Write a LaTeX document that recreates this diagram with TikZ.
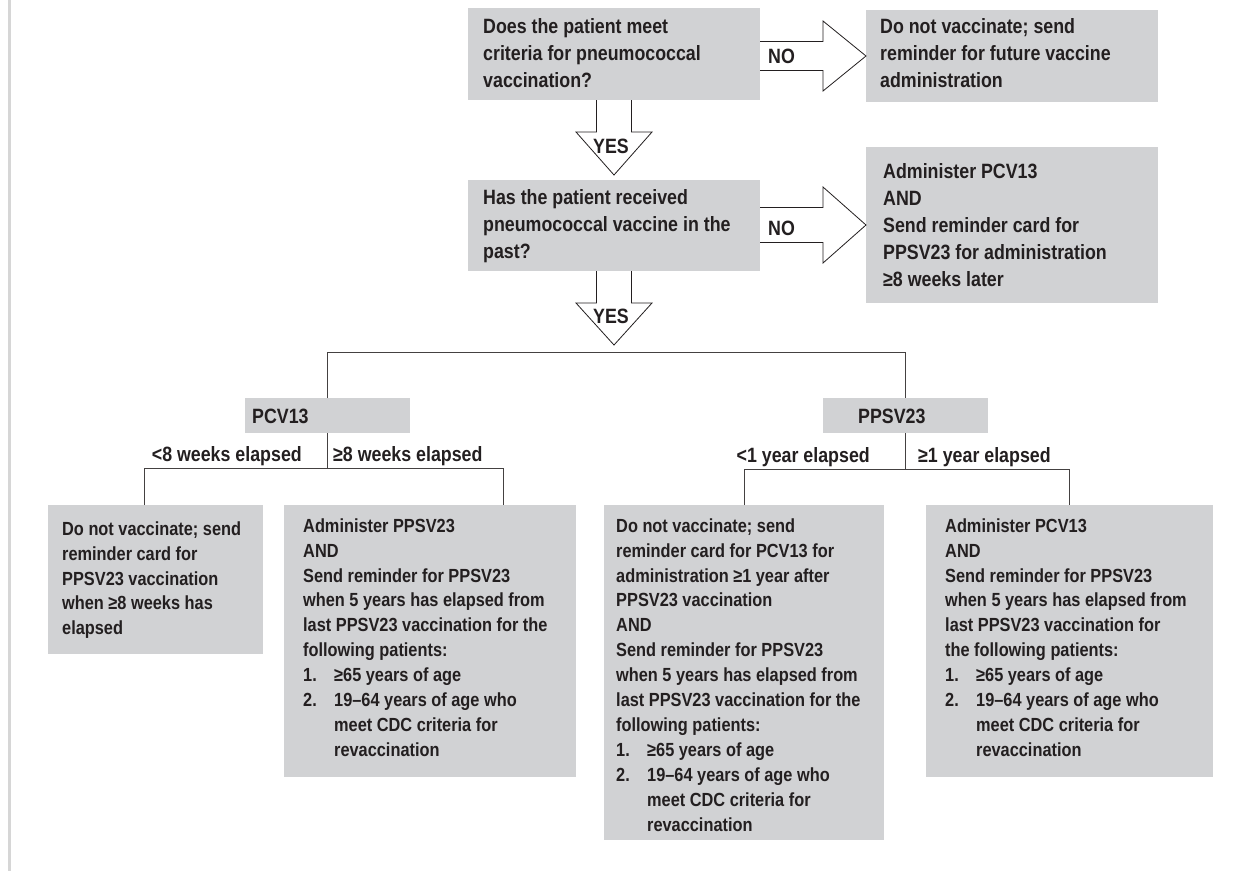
\documentclass[tikz,border=0pt]{standalone}
\usepackage{fontspec}
\setmainfont{Liberation Sans}[FakeStretch=0.86]
\usetikzlibrary{calc}
\definecolor{boxgray}{HTML}{D1D2D4}
\definecolor{ink}{HTML}{231F20}
\definecolor{edgegray}{HTML}{D6D6D6}
\begin{document}
\begin{tikzpicture}[x=1pt,y=-1pt,
  greybox/.style={fill=boxgray, draw=none, inner sep=0pt, outer sep=0pt, anchor=north west},
  bigtxt/.style={font=\fontsize{20.7}{27}\selectfont\bfseries, text=ink, inner sep=0pt, align=left},
  smalltxt/.style={font=\fontsize{19}{24.9}\selectfont\bfseries, text=ink, inner sep=0pt, align=left},
  blk/.style={draw=ink, line width=0.8pt, fill=white, line join=miter},
  treeline/.style={draw=ink!85, line width=1pt}
]
\useasboundingbox (0,0) rectangle (1253,871);
\fill[edgegray] (8,0) rectangle (11,871);

% boxes
\node[greybox, minimum width=292pt, minimum height=92pt] (q1) at (468,8) {};
\node[greybox, minimum width=292pt, minimum height=92pt] (d1) at (866,10) {};
\node[greybox, minimum width=292pt, minimum height=91pt] (q2) at (468,180) {};
\node[greybox, minimum width=292pt, minimum height=156pt] (a1) at (866,147) {};
\node[greybox, minimum width=165pt, minimum height=35pt] (pcv) at (245,398) {};
\node[greybox, minimum width=165pt, minimum height=35pt] (ppsv) at (823,398) {};
\node[greybox, minimum width=215pt, minimum height=149pt] (l1) at (48,505) {};
\node[greybox, minimum width=292pt, minimum height=272pt] (l2) at (284,505) {};
\node[greybox, minimum width=280pt, minimum height=335pt] (l3) at (604,505) {};
\node[greybox, minimum width=287pt, minimum height=272pt] (l4) at (926,505) {};

% texts in boxes
\node[bigtxt, anchor=north west] (q1t) at (483,14.1) {\strut Does the patient meet\\criteria for pneumococcal\\vaccination?};
\node[bigtxt, anchor=north west] (d1t) at (880,14.1) {\strut Do not vaccinate; send\\reminder for future vaccine\\administration};
\node[bigtxt, anchor=north west] (q2t) at (483,185.1) {\strut Has the patient received\\pneumococcal vaccine in the\\past?};
\node[bigtxt, anchor=north west] (a1t) at (883,159.1) {\strut Administer PCV13\\AND\\Send reminder card for\\PPSV23 for administration\\≥8 weeks later};
\node[bigtxt, anchor=base west] (pcvt) at (252,423) {PCV13};
\node[bigtxt, anchor=base west] (ppsvt) at (858,423) {PPSV23};
\node[smalltxt, anchor=north west] (l1t) at (62,517.6) {\strut Do not vaccinate; send\\reminder card for\\PPSV23 vaccination\\when ≥8 weeks has\\elapsed};
\node[smalltxt, anchor=north west] (l2t) at (303,514.6) {\strut Administer PPSV23\\AND\\Send reminder for PPSV23\\when 5 years has elapsed from\\last PPSV23 vaccination for the\\following patients:\\\makebox[31pt][l]{1.}≥65 years of age\\\makebox[31pt][l]{2.}19–64 years of age who\\\hspace*{31pt}meet CDC criteria for\\\hspace*{31pt}revaccination};
\node[smalltxt, anchor=north west] (l3t) at (616,514.6) {\strut Do not vaccinate; send\\reminder card for PCV13 for\\administration ≥1 year after\\PPSV23 vaccination\\AND\\Send reminder for PPSV23\\when 5 years has elapsed from\\last PPSV23 vaccination for the\\following patients:\\\makebox[31pt][l]{1.}≥65 years of age\\\makebox[31pt][l]{2.}19–64 years of age who\\\hspace*{31pt}meet CDC criteria for\\\hspace*{31pt}revaccination};
\node[smalltxt, anchor=north west] (l4t) at (945,514.6) {\strut Administer PCV13\\AND\\Send reminder for PPSV23\\when 5 years has elapsed from\\last PPSV23 vaccination for\\the following patients:\\\makebox[31pt][l]{1.}≥65 years of age\\\makebox[31pt][l]{2.}19–64 years of age who\\\hspace*{31pt}meet CDC criteria for\\\hspace*{31pt}revaccination};

% block arrows
\draw[blk] ($(q1.east|-d1.west)+(0,-14.5)$) -- ++(63,0) -- ++(0,-20.5) -- (d1.west) -- ++(-43,35) -- ++(0,-20.5) -- ++(-63,0);
\draw[blk] ($(q2.east|-a1.west)+(0,-17.5)$) -- ++(63,0) -- ++(0,-20.5) -- (a1.west) -- ++(-43,38) -- ++(0,-20.5) -- ++(-63,0);
\draw[blk] ($(q1.south)+(-17.5,0)$) -- ++(0,32) -- ++(-20.5,0) -- ($(q2.north)+(0,-5)$) -- ++(38,-43) -- ++(-20.5,0) -- ++(0,-32);
\coordinate (split) at (614,352);
\draw[blk] ($(q2.south)+(-17.5,0)$) -- ++(0,32) -- ++(-20.5,0) -- ($(split)+(0,-7)$) -- ++(38,-42) -- ++(-20.5,0) -- ++(0,-32);

\node[bigtxt, anchor=base west] (no1) at (768,63) {NO};
\node[bigtxt, anchor=base west] (no2) at (768,235) {NO};
\node[bigtxt, anchor=base] (yes1) at (611,153) {YES};
\node[bigtxt, anchor=base] (yes2) at (611,323) {YES};

% tree lines
\draw[treeline] (pcv.north) -- ++(0,-46) -| (ppsv.north);
\draw[treeline] (pcv.south) -- ++(0,35);
\draw[treeline] ([xshift=96pt]l1.north west) -- ++(0,-37) -| ([xshift=219pt]l2.north west);
\draw[treeline] (ppsv.south) -- ++(0,36);
\draw[treeline] (l3.north) -- ++(0,-36) -| (l4.north);

% branch labels
\node[bigtxt, anchor=base east] (lab1) at ($(pcv.south)+(-25.5,28)$) {<8 weeks elapsed};
\node[bigtxt, anchor=base west] (lab2) at ($(pcv.south)+(5.5,28)$) {≥8 weeks elapsed};
\node[bigtxt, anchor=base east] (lab3) at ($(ppsv.south)+(-35.5,29)$) {<1 year elapsed};
\node[bigtxt, anchor=base west] (lab4) at ($(ppsv.south)+(12.5,29)$) {≥1 year elapsed};
\end{tikzpicture}
\end{document}
